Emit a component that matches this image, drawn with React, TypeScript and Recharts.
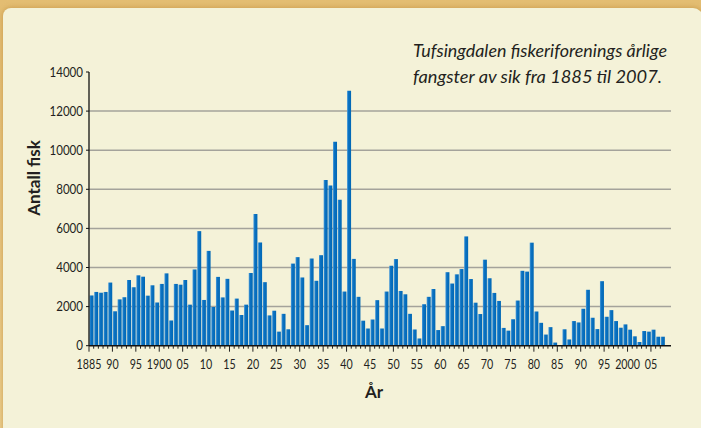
import React from "react";
import { BarChart, Bar, XAxis, YAxis, CartesianGrid } from "recharts";

const FIRST_YEAR = 1885;

// Annual catch of whitefish (number of fish), 1885–2007
const catches = [
  2570, 2750, 2710, 2750, 3230,
  1760, 2370, 2480, 3360, 2990, 3600, 3530, 2560, 3090, 2210,
  3160, 3700, 1290, 3160, 3120, 3360, 2100, 3900, 5860, 2340,
  4850, 1980, 3520, 2470, 3420, 1800, 2410, 1570, 2100, 3720,
  6740, 5280, 3250, 1550, 1790, 720, 1630, 840, 4200, 4530,
  3490, 1050, 4460, 3320, 4630, 8480, 8190, 10430, 7470, 2770,
  13040, 4440, 2500, 1280, 880, 1340, 2330, 880, 2770, 4090,
  4430, 2800, 2630, 1630, 830, 370, 2120, 2500, 2900, 800,
  1000, 3760, 3180, 3650, 3920, 5590, 3410, 2200, 1620, 4400,
  3450, 2700, 2290, 910, 770, 1350, 2310, 3830, 3790, 5270,
  1750, 1170, 570, 950, 160, 0, 840, 320, 1260, 1190,
  1890, 2860, 1430, 850, 3300, 1480, 1820, 1260, 920, 1090,
  820, 480, 190, 750, 720, 820, 460, 460,
];

const yTicks = [0, 2000, 4000, 6000, 8000, 10000, 12000, 14000];
const gridValues = [2000, 4000, 6000, 8000, 10000, 12000];

const labelYears = [
  1885, 1890, 1895, 1900, 1905, 1910, 1915, 1920, 1925, 1930, 1935, 1940, 1945,
  1950, 1955, 1960, 1965, 1970, 1975, 1980, 1985, 1990, 1995, 2000, 2005,
];
const labelTexts = [
  "1885", "90", "95", "1900", "05", "10", "15", "20", "25", "30", "35", "40", "45",
  "50", "55", "60", "65", "70", "75", "80", "85", "90", "95", "2000", "05",
];

const data = catches.map((v, i) => ({ year: String(FIRST_YEAR + i), fisk: v }));

const TICK_FONT = "Lato, sans-serif";
const TEXT_COLOR = "#231f20";

const XTick = (props: any) => {
  const { x, y, payload } = props;
  const year = Number(payload.value);
  const off = typeof payload.offset === "number" ? payload.offset : 0;
  const bx = x - off;
  const idx = labelYears.indexOf(year);
  const major = idx >= 0;
  const label = major ? labelTexts[idx] : "";
  return (
    <g>
      <line x1={bx} x2={bx} y1={y} y2={y + (major ? 6 : 3)} stroke="#222" strokeWidth={1} />
      {major && (
        <text
          x={bx}
          y={y + 23.4}
          textAnchor="middle"
          fontFamily={TICK_FONT}
          fontSize={12.5}
          fill={TEXT_COLOR}
          textLength={label.length * 6.2}
          lengthAdjust="spacingAndGlyphs"
        >
          {label}
        </text>
      )}
    </g>
  );
};

const YTick = (props: any) => {
  const { x, y, payload } = props;
  const label = String(payload.value);
  return (
    <text
      x={x}
      y={y}
      dy={4.6}
      textAnchor="end"
      fontFamily={TICK_FONT}
      fontSize={13.5}
      fill={TEXT_COLOR}
      textLength={label.length * 6.7}
      lengthAdjust="spacingAndGlyphs"
    >
      {label}
    </text>
  );
};

export default function App() {
  return (
    <div
      style={{
        position: "relative",
        width: 701,
        height: 428,
        overflow: "hidden",
        background: "linear-gradient(180deg, #e3bd72 0%, #ecd08f 100%)",
      }}
    >
      <style>{"body{margin:0}"}</style>
      <div
        style={{
          position: "absolute",
          left: 3,
          top: 8,
          right: -2,
          bottom: -10,
          background: "#f4f2d8",
          borderTopLeftRadius: 8,
          borderTopRightRadius: 10,
          boxShadow: "0 0 4px 1px rgba(190,140,60,0.55)",
        }}
      />
      <div style={{ position: "absolute", left: 0, top: 0 }}>
        <BarChart
          width={701}
          height={428}
          data={data}
          margin={{ top: 72, right: 30, bottom: 42.3, left: 0 }}
          barCategoryGap="11%"
        >
          <defs>
            <linearGradient id="barGrad" x1="0" y1="0" x2="1" y2="0">
              <stop offset="0%" stopColor="#4d9ddb" />
              <stop offset="35%" stopColor="#0b72c2" />
              <stop offset="100%" stopColor="#0067b4" />
            </linearGradient>
          </defs>
          <CartesianGrid
            vertical={false}
            horizontalValues={gridValues}
            stroke="#a4a39b"
            strokeWidth={1.5}
          />
          <XAxis
            dataKey="year"
            interval={0}
            height={40}
            padding={{ left: 0, right: 6 }}
            tickSize={0}
            tickMargin={0}
            tickLine={false}
            tick={<XTick />}
            axisLine={{ stroke: "#111", strokeWidth: 1.5 }}
          />
          <YAxis
            width={89}
            domain={[0, 14000]}
            ticks={yTicks}
            interval={0}
            tickSize={3}
            tickMargin={3}
            axisLine={{ stroke: "#111", strokeWidth: 1.3 }}
            tickLine={{ stroke: "#111" }}
            tick={<YTick />}
          />
          <Bar dataKey="fisk" fill="url(#barGrad)" isAnimationActive={false} />
        </BarChart>
      </div>
      <svg
        width={701}
        height={428}
        style={{ position: "absolute", left: 0, top: 0, pointerEvents: "none" }}
      >
        <text
          x={413}
          y={56.5}
          fontFamily="Lato, 'Open Sans', sans-serif"
          fontStyle="italic"
          fontSize={17}
          fill={TEXT_COLOR}
          textLength={254}
          lengthAdjust="spacingAndGlyphs"
        >
          Tufsingdalen fiskeriforenings årlige
        </text>
        <text
          x={413}
          y={83.3}
          fontFamily="Lato, 'Open Sans', sans-serif"
          fontStyle="italic"
          fontSize={17}
          fill={TEXT_COLOR}
          textLength={249}
          lengthAdjust="spacingAndGlyphs"
        >
          fangster av sik fra 1885 til 2007.
        </text>
        <text
          x={374}
          y={398}
          textAnchor="middle"
          fontFamily="Lato, sans-serif"
          fontWeight="bold"
          fontSize={17}
          fill={TEXT_COLOR}
        >
          År
        </text>
        <text
          x={0}
          y={0}
          transform="translate(39.5 178) rotate(-90)"
          textAnchor="middle"
          fontFamily="Lato, sans-serif"
          fontWeight="bold"
          fontSize={17}
          fill={TEXT_COLOR}
        >
          Antall fisk
        </text>
      </svg>
    </div>
  );
}
